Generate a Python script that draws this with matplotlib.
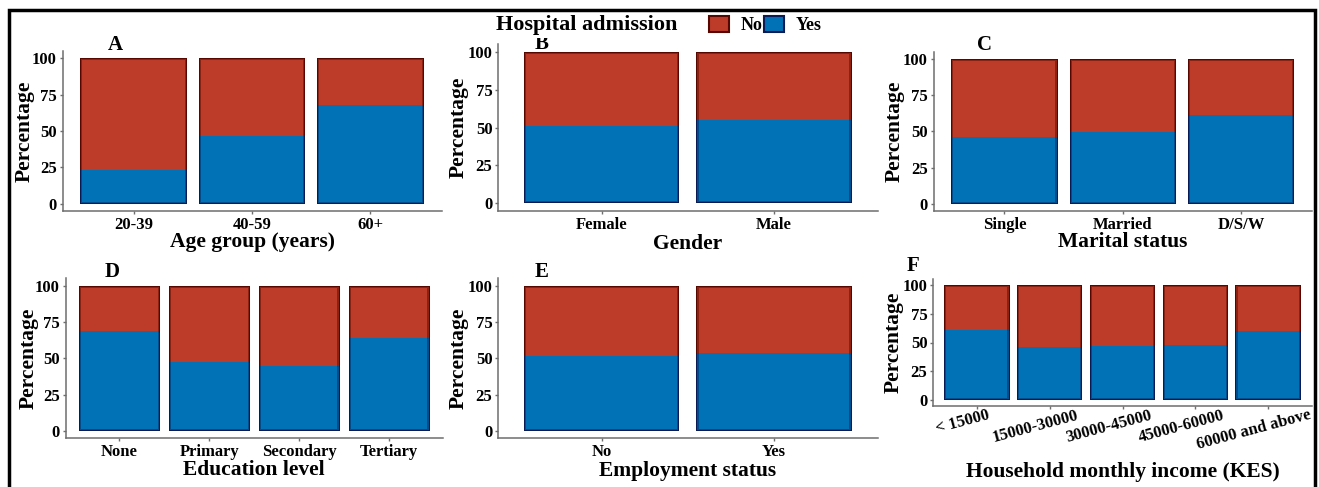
#import modules
import matplotlib
matplotlib.use("Agg")
import matplotlib.pyplot as plt
import matplotlib.patches as mpatches
from matplotlib.transforms import ScaledTranslation

plt.rcParams['font.family'] = ['Liberation Serif', 'DejaVu Serif']
plt.rcParams['font.weight'] = 'bold'

#data: percentage admitted (Yes) per category, No is the rest
age_groups = ["20-39", "40-59", "60+"]
age_yes = [23.4, 46.6, 68.0]

gender = ["Female", "Male"]
gender_yes = [51.2, 54.9]

marital = ["Single", "Married", "D/S/W"]
marital_yes = [46.1, 49.6, 61.2]

education = ["None", "Primary", "Secondary", "Tertiary"]
education_yes = [68.8, 47.3, 45.0, 63.8]

employment = ["No", "Yes"]
employment_yes = [51.8, 53.5]

income = ["< 15000", "15000-30000", "30000-45000", "45000-60000", "60000 and above"]
income_yes = [60.6, 46.4, 47.2, 47.5, 60.0]

#colours (face, mid shade, dark shade)
red = ["#BC3C29", "#8E2212", "#560800"]
blue = ["#0072B5", "#004C8C", "#0B1A52"]
axis_grey = "#6E6E6E"

W, H = 1319, 487
fig = plt.figure(figsize=(W / 100, H / 100), dpi=100)


def pos(l, r, t, b):
    return [l / W, 1 - b / H, (r - l) / W, (b - t) / H]


def stacked(box, cats, yes, xlabel, letter, letter_xy, ylab_x, xlab_pad=0.0):
    ax = fig.add_axes(pos(*box))
    n = len(cats)
    x = list(range(n))
    no = [100 - v for v in yes]
    ax.set_xlim(-0.6, n - 1 + 0.6)
    ax.set_ylim(-5, 105)
    px_x = (box[1] - box[0]) / (n - 1 + 1.2)
    px_y = (box[3] - box[2]) / 110
    #dark border -> mid -> face to mimic the shaded bar edges
    for inset, k in [(0, 2), (1.0, 1), (2.2, 0)]:
        dx = inset / px_x
        dy = inset / px_y
        ax.bar(x, [v - dy for v in yes], 0.9 - 2 * dx, [dy] * n, color=blue[k], linewidth=0)
        ax.bar(x, [v - dy for v in no], 0.9 - 2 * dx, yes, color=red[k], linewidth=0)
    ax.set_xticks(x, cats)
    ax.set_yticks([0, 25, 50, 75, 100])
    for s in ["top", "right"]:
        ax.spines[s].set_visible(False)
    for s in ["left", "bottom"]:
        ax.spines[s].set_color(axis_grey)
        ax.spines[s].set_linewidth(1.1)
    ax.tick_params(colors=axis_grey, length=2.5, width=1, pad=1.5, labelsize=12,
                   labelcolor="black")
    ax.set_xlabel(xlabel, fontsize=15.5, fontweight="bold", labelpad=xlab_pad)
    ax.set_ylabel("Percentage", fontsize=15.5, fontweight="bold")
    ax.yaxis.set_label_coords((ylab_x + 12 - box[0]) / (box[1] - box[0]), 0.5)
    fig.text(letter_xy[0] / W, 1 - letter_xy[1] / H, letter, fontsize=15,
             fontweight="bold", ha="center", va="center", zorder=3)
    return ax


stacked((62.5, 441.5, 51, 211), age_groups, age_yes, "Age group (years)", "A", (115, 45), 23, -0.5)
stacked((498, 877.5, 44, 211), gender, gender_yes, "Gender", "B", (542, 44), 457, 1)
stacked((933.5, 1312, 51.5, 211), marital, marital_yes, "Marital status", "C", (985, 45), 893, -0.5)
stacked((65.5, 443, 278.4, 438.3), education, education_yes, "Education level", "D", (112, 272), 27, 0)
stacked((498, 877.5, 278.4, 438.3), employment, employment_yes, "Employment status", "E", (542, 272), 457, 1)
axf = stacked((933, 1312, 279.25, 405.75), income, income_yes,
              "Household monthly income (KES)", "F", (913, 266), 892, 6.5)
for lab in axf.get_xticklabels():
    lab.set_rotation(15)
    lab.set_ha("center")
    lab.set_transform(lab.get_transform() + ScaledTranslation(-0.14, 0.04, fig.dpi_scale_trans))

#legend on top, with white background like the ggplot legend box
fig.patches.append(mpatches.Rectangle((493 / W, 1 - 38 / H), (833 - 493) / W, 27 / H,
                                      transform=fig.transFigure, facecolor="white",
                                      edgecolor="none", zorder=4))
fig.text(587 / W, 1 - 25 / H, "Hospital admission", fontsize=16, fontweight="bold",
         ha="center", va="center", zorder=5)
handles = [mpatches.Patch(facecolor=red[0], edgecolor=red[2], linewidth=1.5),
           mpatches.Patch(facecolor=blue[0], edgecolor=blue[2], linewidth=1.5)]
leg = fig.legend(handles, ["No", "Yes"], ncol=2, loc="center left",
                 bbox_to_anchor=(709 / W, 1 - 25 / H), frameon=False,
                 handlelength=1.1, handleheight=0.95, handletextpad=0.65,
                 columnspacing=0.1, borderpad=0, borderaxespad=0,
                 prop={"size": 13, "weight": "bold"})
leg.set_zorder(5)

#black frame around the whole figure
fig.patches.append(mpatches.Rectangle((9 / W, -0.02), (1315 - 9) / W, (487 - 10) / H + 0.02,
                                      transform=fig.transFigure, fill=False,
                                      edgecolor="black", linewidth=2.5, zorder=6))

fig.savefig("out.png", dpi=100)
